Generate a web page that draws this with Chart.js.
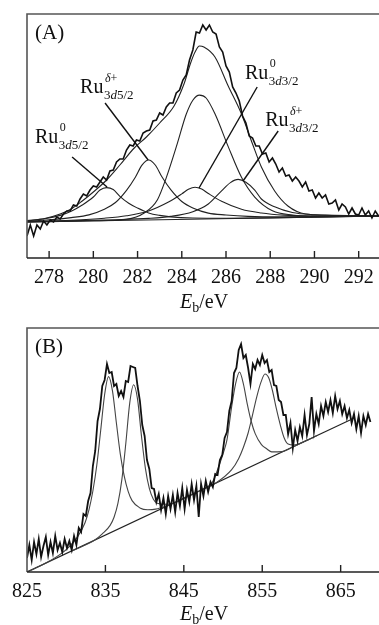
<!DOCTYPE html>
<html>
<head>
<meta charset="utf-8">
<script src="https://cdn.jsdelivr.net/npm/chart.js@4.4.0/dist/chart.umd.min.js"></script>
<style>
  html, body { margin: 0; padding: 0; background: #fff; overflow: hidden; width: 379px; height: 625px; }
  canvas { position: absolute; left: 0; }
  #chartA { top: 0; }
  #chartB { top: 314px; }
</style>
</head>
<body>
<canvas id="chartA" width="384" height="314"></canvas>
<canvas id="chartB" width="384" height="311"></canvas>
<script>
// ---------- (A) Ru 3d region, binding energy in eV, intensity in arbitrary units ----------
const ticksA = [278, 280, 282, 284, 286, 288, 290, 292];
const rawA_start = 277.0, rawA_step = 0.15;
const rawA = [22, 33, 22, 33, 29, 37, 33, 38, 36, 41,
  39, 44, 47, 47, 53, 52, 59, 64, 62, 68,
  72, 71, 76, 81, 78, 87, 88, 96, 99, 99,
  108, 113, 112, 118, 117, 125, 127, 128, 137, 138,
  145, 143, 151, 155, 155, 165, 168, 178, 183, 198,
  208, 226, 225, 233, 228, 233, 226, 224, 211, 206,
  192, 186, 171, 165, 157, 142, 135, 122, 120, 112,
  112, 104, 105, 96, 100, 94, 86, 90, 82, 83,
  77, 81, 77, 71, 76, 67, 68, 60, 65, 60,
  63, 54, 55, 58, 48, 54, 51, 44, 50, 44,
  43, 50, 43, 47, 40, 47, 42];
const baseA_E = [277, 293.1];
const baseA_I = [36, 42];
const envA_E = [277, 277.8, 278.5, 279, 279.5, 280, 280.6, 281.2, 281.85, 282.4, 283, 283.65, 284.1, 284.4, 284.6, 284.8, 285.0, 285.5, 286.1, 286.7, 287.2, 287.6, 288.2, 288.8, 289.6, 290.5, 291.5, 293.1];
const envA_I = [37, 39.5, 44, 49, 57, 66, 78, 93, 110, 121, 135, 152, 174, 195, 206, 212, 211, 201, 172, 144, 114, 91, 67, 52, 44, 43, 42.5, 42];
// Ru0 3d5/2
const ru0d52_E = [277, 277.8, 278.5, 279, 279.5, 280, 280.3, 280.6, 280.9, 281.2, 281.6, 282, 282.5, 283, 283.5, 284.5, 286, 293.1];
const ru0d52_I = [37.5, 39.3, 42.6, 46.8, 53, 61, 68, 70.4, 68.5, 61.6, 54.7, 49.9, 45.1, 42.6, 41.1, 40, 39.8, 42];
// Ru(delta+) 3d5/2
const rudd52_E = [277, 278, 279, 279.8, 280.5, 281, 281.5, 281.9, 282.2, 282.5, 282.8, 283.1, 283.5, 284, 284.5, 285.2, 286, 287, 288.5, 293.1];
const rudd52_I = [36.9, 38.2, 40.4, 43.1, 48.7, 55.5, 67.7, 80.8, 92.9, 98, 93, 81.2, 68.3, 56.5, 50.1, 44.9, 43, 41.6, 41.1, 42];
// C 1s
const c1s_E = [277, 280, 281.5, 282.3, 282.9, 283.3, 283.8, 284.2, 284.5, 284.8, 285.1, 285.5, 286.1, 286.7, 287.3, 288.1, 289, 290, 293.1];
const c1s_I = [36, 37.2, 38.7, 45, 58.3, 80.4, 114.6, 143.7, 157.8, 162.9, 160, 144.2, 111.4, 80.7, 60.9, 47.2, 43, 41.9, 42];
// Ru0 3d3/2
const ru0d32_E = [277, 279, 280.5, 281.5, 282.5, 283.4, 284, 284.3, 284.6, 284.9, 285.2, 285.8, 286.7, 287.6, 288.6, 290, 293.1];
const ru0d32_I = [36.2, 37.8, 39.8, 42.2, 47, 55.9, 64.1, 68.7, 70.8, 68.9, 64.5, 56.7, 48.7, 45, 42.9, 41.9, 42];
// Ru(delta+) 3d3/2
const rudd32_E = [277, 281, 282.5, 283.5, 284.5, 285.2, 285.8, 286.2, 286.55, 286.9, 287.3, 287.6, 288.2, 289, 290, 291.5, 293.1];
const rudd32_I = [36.2, 38.3, 39.6, 41.6, 46.3, 54, 67.2, 75.4, 78.6, 75.7, 67.9, 59, 51.2, 45.5, 43.3, 42.4, 42];

// ---------- (B) Ru 3p region ----------
const ticksB = [825, 835, 845, 855, 865];
const rawB_start = 825.0, rawB_step = 0.3;
const rawB = [14, 27, 12, 30, 18, 33, 15, 26, 35, 17,
  30, 19, 36, 22, 29, 20, 33, 24, 31, 22,
  36, 27, 44, 40, 58, 56, 71, 79, 106, 121,
  151, 163, 186, 192, 208, 199, 200, 186, 188, 176,
  181, 175, 191, 190, 206, 205, 204, 186, 171, 147,
  136, 112, 103, 84, 83, 70, 78, 62, 74, 58,
  76, 63, 77, 60, 79, 66, 84, 63, 82, 70,
  88, 72, 86, 55, 88, 76, 91, 80, 90, 85,
  98, 97, 112, 117, 134, 140, 161, 171, 199, 204,
  222, 228, 214, 217, 204, 188, 208, 203, 212, 207,
  217, 209, 212, 200, 202, 187, 186, 172, 170, 157,
  157, 138, 149, 124, 142, 131, 145, 136, 157, 137,
  148, 175, 141, 158, 148, 166, 156, 170, 160, 172,
  159, 176, 163, 171, 158, 166, 154, 162, 149, 158,
  143, 156, 139, 156, 147, 158, 150];
const baseB_E = [825, 866.2];
const baseB_I = [0, 152];
const pk1_E = [825, 827.4, 829.4, 830.4, 831.4, 832.4, 832.9, 833.4, 833.9, 834.4, 834.9, 835.4, 835.9, 836.4, 836.9, 837.4, 837.9, 838.4, 839.4, 840.4, 841.4, 843.4];
const pk1_I = [0, 8.9, 18.6, 25.4, 34.6, 49.3, 62.2, 81, 106.8, 141.7, 177.5, 195.4, 181.2, 149, 117.9, 95.8, 80.6, 71.4, 64.1, 62.3, 62.9, 67.9];
const pk2_E = [830.6, 833.6, 834.6, 835.6, 836.1, 836.6, 837.1, 837.6, 838.1, 838.6, 839.1, 839.6, 840.1, 840.6, 841.1, 841.6, 842.6, 843.6, 846];
const pk2_I = [20.7, 31.7, 38.1, 46.6, 54.7, 68.8, 92.6, 128.5, 168.9, 187.2, 172.6, 135.9, 103.7, 83.6, 73.1, 68.8, 67.7, 68.6, 77.5];
const pk3_E = [845.5, 847.6, 848.6, 849.6, 850.1, 850.5, 851.1, 851.6, 852.1, 852.6, 853.1, 853.6, 854.1, 854.9, 855.6, 856.2, 857.5, 859, 861];
const pk3_I = [75.6, 83.4, 89.1, 108.8, 120.6, 132.1, 165.3, 188.2, 200, 187.9, 167.7, 150.5, 138.4, 127.4, 123, 120.1, 120.4, 125.5, 132.8];
const pk4_E = [847, 849, 851.1, 852.0, 852.6, 853.2, 853.7, 854.3, 854.85, 855.35, 855.85, 856.3, 856.8, 857.3, 857.8, 858.3, 859, 860.5, 862];
const pk4_I = [81.2, 88.6, 102.3, 113.6, 124.8, 139, 154.9, 175.1, 190.1, 198, 193.8, 181.5, 163.3, 147.2, 134, 127.9, 127, 131, 136.5];

const SERIF = '"Liberation Serif", "Times New Roman", serif';

function pairs(E, I) { return E.map((e, i) => ({ x: e, y: I[i] })); }
function rawPairs(start, step, I) { return I.map((v, i) => ({ x: +(start + i * step).toFixed(2), y: v })); }

function fitLine(data, color, width) {
  return { data: data, borderColor: color, borderWidth: width, pointRadius: 0, fill: false, cubicInterpolationMode: 'monotone' };
}

// Ru with superscript state and subscript 3d level; the "d" and "δ" in italics
function drawRu(ctx, x, y, sup, level) {
  ctx.fillStyle = '#111';
  ctx.textBaseline = 'alphabetic';
  ctx.textAlign = 'left';
  ctx.font = '20px ' + SERIF;
  ctx.fillText('Ru', x, y);
  const x0 = x + ctx.measureText('Ru').width + 0.5;
  // superscript
  let sx = x0 + 1;
  if (sup === 'd+') {
    ctx.font = 'italic 12px ' + SERIF;
    ctx.fillText('δ', sx, y - 11);
    sx += ctx.measureText('δ').width;
    ctx.font = '12px ' + SERIF;
    ctx.fillText('+', sx, y - 11);
  } else {
    ctx.font = '12px ' + SERIF;
    ctx.fillText('0', sx, y - 12);
  }
  // subscript
  let bx = x0;
  ctx.font = '13px ' + SERIF;
  ctx.fillText('3', bx, y + 6);
  bx += ctx.measureText('3').width;
  ctx.font = 'italic 13px ' + SERIF;
  ctx.fillText('d', bx, y + 6);
  bx += ctx.measureText('d').width;
  ctx.font = '13px ' + SERIF;
  ctx.fillText(level, bx, y + 6);
}

const framePlugin = {
  id: 'frame',
  afterDraw(chart, args, opts) {
    const ctx = chart.ctx;
    const a = chart.chartArea;
    const xs = chart.scales.x, ys = chart.scales.y;
    ctx.save();
    // box
    ctx.lineWidth = 1.6;
    ctx.strokeStyle = '#555';
    ctx.beginPath();
    ctx.moveTo(a.left, a.bottom);
    ctx.lineTo(a.left, a.top);
    ctx.lineTo(a.right + 2, a.top);
    ctx.stroke();
    ctx.strokeStyle = '#222';
    ctx.beginPath();
    ctx.moveTo(a.left, a.bottom);
    ctx.lineTo(a.right + 2, a.bottom);
    ctx.stroke();
    // inward tick marks
    ctx.lineWidth = 1.4;
    xs.ticks.forEach(t => {
      const px = xs.getPixelForValue(t.value);
      if (px > a.left + 1) {
        ctx.beginPath();
        ctx.moveTo(px, a.bottom);
        ctx.lineTo(px, a.bottom - 7);
        ctx.stroke();
      }
    });
    // axis title E_b/eV
    ctx.fillStyle = '#111';
    ctx.textBaseline = 'alphabetic';
    ctx.textAlign = 'left';
    let tx = opts.titleX;
    const ty = opts.titleY;
    ctx.font = 'italic 20px ' + SERIF;
    ctx.fillText('E', tx, ty);
    tx += ctx.measureText('E').width;
    ctx.font = '14px ' + SERIF;
    ctx.fillText('b', tx, ty + 4);
    tx += ctx.measureText('b').width;
    ctx.font = '20px ' + SERIF;
    ctx.fillText('/eV', tx, ty);
    // panel letter
    ctx.font = '21px ' + SERIF;
    ctx.fillText(opts.letter, a.left + 8, a.top + 25);
    // peak labels with pointer lines
    (opts.notes || []).forEach(n => {
      drawRu(ctx, xs.getPixelForValue(n.E), ys.getPixelForValue(n.I), n.sup, n.level);
      ctx.strokeStyle = '#111';
      ctx.lineWidth = 1.4;
      ctx.beginPath();
      ctx.moveTo(xs.getPixelForValue(n.line[0]), ys.getPixelForValue(n.line[1]));
      ctx.lineTo(xs.getPixelForValue(n.line[2]), ys.getPixelForValue(n.line[3]));
      ctx.stroke();
    });
    ctx.restore();
  }
};

function makeChart(id, datasets, xmin, xmax, ticks, axisH, frameOpts) {
  const ctx = document.getElementById(id).getContext('2d');
  return new Chart(ctx, {
    type: 'line',
    data: { datasets: datasets },
    options: {
      responsive: false,
      animation: false,
      events: [],
      parsing: false,
      layout: { padding: { left: 27, top: 14, right: 1, bottom: 0 } },
      plugins: { legend: { display: false }, tooltip: { enabled: false }, frame: frameOpts },
      elements: { point: { radius: 0 }, line: { tension: 0 } },
      scales: {
        x: {
          type: 'linear', min: xmin, max: xmax,
          afterBuildTicks: s => { s.ticks = ticks.map(v => ({ value: v })); },
          afterFit: s => { s.height = axisH; },
          grid: { display: false, drawTicks: false },
          border: { display: false },
          ticks: { color: '#111', font: { family: SERIF, size: 20 }, padding: 8, maxRotation: 0, autoSkip: false }
        },
        y: { display: false, min: 0, max: 244 }
      }
    },
    plugins: [framePlugin]
  });
}

makeChart('chartA', [
  { data: rawPairs(rawA_start, rawA_step, rawA), borderColor: '#111', borderWidth: 1.6, pointRadius: 0, fill: false },
  fitLine(pairs(envA_E, envA_I), '#222', 1.1),
  fitLine(pairs(ru0d52_E, ru0d52_I), '#222', 1.1),
  fitLine(pairs(rudd52_E, rudd52_I), '#222', 1.1),
  fitLine(pairs(c1s_E, c1s_I), '#222', 1.1),
  fitLine(pairs(ru0d32_E, ru0d32_I), '#222', 1.1),
  fitLine(pairs(rudd32_E, rudd32_I), '#222', 1.1),
  fitLine(pairs(baseA_E, baseA_I), '#222', 1.2)
], 277, 293.1, ticksA, 56, {
  letter: '(A)', titleX: 180, titleY: 308,
  notes: [
    { E: 277.36, I: 115, sup: '0', level: '5/2', line: [279.04, 101, 280.62, 71] },
    { E: 279.4, I: 165, sup: 'd+', level: '5/2', line: [280.53, 155, 282.48, 98] },
    { E: 286.86, I: 179, sup: '0', level: '3/2', line: [287.41, 171, 284.78, 70] },
    { E: 287.77, I: 132, sup: 'd+', level: '3/2', line: [288.36, 127, 286.77, 77] }
  ]
});

makeChart('chartB', [
  { data: rawPairs(rawB_start, rawB_step, rawB), borderColor: '#111', borderWidth: 1.8, pointRadius: 0, fill: false },
  fitLine(pairs(pk1_E, pk1_I), '#444', 1.1),
  fitLine(pairs(pk2_E, pk2_I), '#444', 1.1),
  fitLine(pairs(pk3_E, pk3_I), '#444', 1.1),
  fitLine(pairs(pk4_E, pk4_I), '#444', 1.1),
  fitLine(pairs(baseB_E, baseB_I), '#222', 1.2)
], 825, 870.4, ticksB, 53, {
  letter: '(B)', titleX: 180, titleY: 306, notes: []
});
</script>
</body>
</html>
